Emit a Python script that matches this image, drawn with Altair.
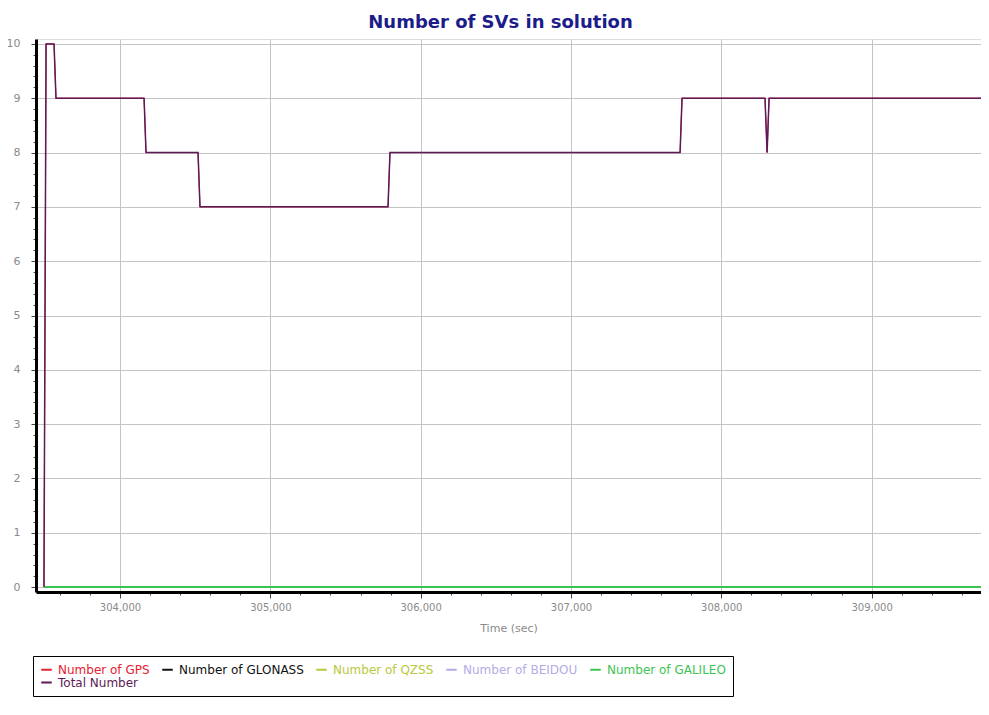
import altair as alt
import pandas as pd

# ---- data ----
series_names = ["Number of GPS", "Number of GLONASS", "Number of QZSS",
                "Number of BEIDOU", "Number of GALILEO", "Total Number"]
series_colors = ["#e8212e", "#111111", "#b9c83c", "#b4abe6", "#3cc452", "#5e1a57"]

total_times = [303494, 303508, 303561, 303574, 304160, 304173, 304519, 304532,
               305783, 305796, 307726, 307739, 308291, 308305, 308318, 309768]
total_values = [0, 10, 10, 9, 9, 8, 8, 7, 7, 8, 8, 9, 9, 8, 9, 9]
gps_values = [0, 10, 10, 9, 9, 8, 8, 7, 7, 8, 8, 9, 9, 8, 9, 9]

zero_times = [303494, 309768]
glonass_values = [0, 0]
qzss_values = [0, 0]
beidou_values = [0, 0]
galileo_values = [0, 0]

x_tick_values = list(range(303600, 309801, 200))
y_tick_values = [i / 5 for i in range(0, 51)]

rows = []
for t, v in zip(total_times, gps_values):
    rows.append({"time": t, "count": v, "series": "Number of GPS"})
for name, vals in [("Number of GLONASS", glonass_values), ("Number of QZSS", qzss_values),
                   ("Number of BEIDOU", beidou_values), ("Number of GALILEO", galileo_values)]:
    for t, v in zip(zero_times, vals):
        rows.append({"time": t, "count": v, "series": name})
for t, v in zip(total_times, total_values):
    rows.append({"time": t, "count": v, "series": "Total Number"})
df = pd.DataFrame(rows)

FONT = "DejaVu Sans"
IS_MAJOR_X = "datum.value % 1000 === 0"
IS_MAJOR_Y = "abs(datum.value - round(datum.value)) < 0.001"

x_enc = alt.X(
    "time:Q",
    scale=alt.Scale(domain=[303441, 309728], nice=False, zero=False),
    axis=alt.Axis(
        title="Time (sec)", values=x_tick_values,
        labelExpr=IS_MAJOR_X + " ? format(datum.value, ',') : ''",
        labelOverlap=False, labelFont=FONT, labelFontSize=10, labelColor="#8a8a8a",
        labelPadding=4, titleFont=FONT, titleFontSize=11, titleFontWeight="normal",
        titleColor="#8a8a8a", titlePadding=10,
        tickSize={"condition": {"test": IS_MAJOR_X, "value": 6}, "value": 3},
        tickColor="#444", domainColor="#000", domainWidth=3,
        gridColor="#c4c4c4",
        gridOpacity={"condition": {"test": IS_MAJOR_X, "value": 1}, "value": 0},
    ),
)
y_enc = alt.Y(
    "count:Q",
    scale=alt.Scale(domain=[-0.09, 10.09], nice=False, zero=False),
    axis=alt.Axis(
        title=None, values=y_tick_values,
        labelExpr=IS_MAJOR_Y + " ? format(datum.value, 'd') : ''",
        labelOverlap=False, labelFont=FONT, labelFontSize=11, labelColor="#8a8a8a",
        labelPadding=11,
        tickSize={"condition": {"test": IS_MAJOR_Y, "value": 5}, "value": 3},
        tickColor="#444", domainColor="#000", domainWidth=3,
        gridColor="#c4c4c4",
        gridOpacity={"condition": {"test": IS_MAJOR_Y, "value": 1}, "value": 0},
    ),
)
legend = alt.Legend(
    orient="none", legendX=-3, legendY=617, direction="horizontal", columns=5,
    title=None,
    symbolType="stroke", symbolStrokeWidth=2, symbolSize=110,
    labelFont=FONT, labelFontSize=12, labelColor={"expr": "scale('color', datum.value)"},
    strokeColor="#000", fillColor="#fff", padding=7, columnPadding=8, rowPadding=0,
    gridAlign="each", symbolOffset=0, labelOffset=5,
)
color_enc = alt.Color("series:N", scale=alt.Scale(domain=series_names, range=series_colors),
                      legend=legend)

base = alt.Chart(df).encode(x=x_enc, y=y_enc, color=color_enc)

others = base.transform_filter(
    alt.FieldOneOfPredicate(field="series", oneOf=series_names[:4])
).mark_line(strokeWidth=1, clip=True)
galileo = base.transform_filter(
    alt.FieldEqualPredicate(field="series", equal="Number of GALILEO")
).mark_line(strokeWidth=2, clip=True)
total = base.transform_filter(
    alt.FieldEqualPredicate(field="series", equal="Total Number")
).mark_line(strokeWidth=1.5, clip=True)

chart = alt.layer(others, galileo, total).properties(
    width=945, height=553,
    title=alt.TitleParams("Number of SVs in solution", font=FONT, fontSize=18,
                          fontWeight="bold", color="#1c1c8a", anchor="middle",
                          dx=-8, offset=6),
    autosize=alt.AutoSizeParams(type="none"),
    padding={"left": 28, "top": 31, "right": 0, "bottom": 110},
).configure_view(stroke="#555", strokeWidth=2).configure(background="white")

chart.save("out.html", embed_options={"renderer": "svg", "actions": False})
